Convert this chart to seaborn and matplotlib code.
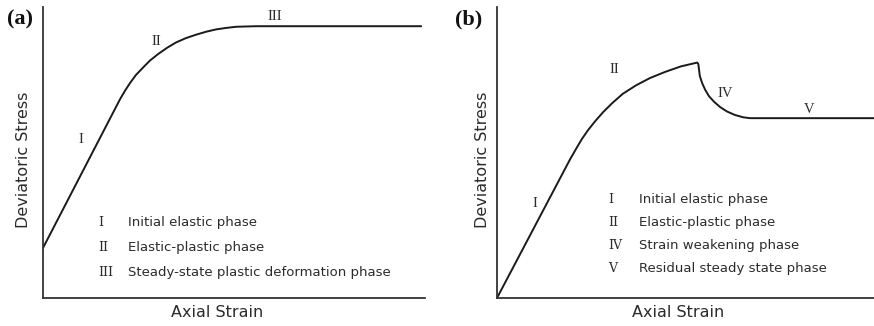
import matplotlib
matplotlib.use("Agg")
import matplotlib.pyplot as plt
import seaborn as sns
import pandas as pd

# Panel (a): stress-strain curve with a steady-state plateau
strain_a = [0.0, 20.2, 21.5, 22.8, 24.3, 26.2, 28.0, 30.1, 32.5, 34.8, 37.4,
            40.1, 42.7, 45.3, 47.9, 50.5, 53.1, 55.8, 99.0]
stress_a = [17.2, 68.4, 71.3, 73.9, 76.6, 79.2, 81.6, 83.8, 86.0, 87.8, 89.3,
            90.5, 91.5, 92.3, 92.8, 93.2, 93.3, 93.4, 93.4]

# Panel (b): stress-strain curve with a peak, weakening and residual plateau
strain_b = [0.0, 19.4, 21.0, 22.5, 24.1, 26.0, 28.1, 30.5, 33.4, 36.9, 40.6,
            44.6, 48.8, 53.1, 53.4, 53.6, 53.8, 54.4, 55.2, 56.2, 57.6, 59.2,
            61.0, 63.1, 65.3, 67.1, 100.0]
stress_b = [0.0, 47.7, 51.3, 54.6, 57.6, 60.7, 63.8, 66.9, 70.2, 73.1, 75.6,
            77.7, 79.6, 80.9, 80.4, 78.4, 76.3, 73.9, 71.6, 69.4, 67.4, 65.6,
            64.1, 62.9, 62.1, 61.8, 61.8]

phases_a = ["I", "II", "III"]
phase_names_a = ["Initial elastic phase", "Elastic-plastic phase",
                 "Steady-state plastic deformation phase"]
phases_b = ["I", "II", "IV", "V"]
phase_names_b = ["Initial elastic phase", "Elastic-plastic phase",
                 "Strain weakening phase", "Residual steady state phase"]

sns.set_style("white")
plt.rcParams["font.family"] = ["DejaVu Sans"]

W, H = 874, 326
fig = plt.figure(figsize=(W / 100, H / 100), dpi=100)

def frac_box(left, right, top, bottom):
    return [left / W, 1 - bottom / H, (right - left) / W, (bottom - top) / H]

ax_a = fig.add_axes(frac_box(43, 425, 7, 298))
ax_b = fig.add_axes(frac_box(497, 874, 7, 298))

ink = "#1a1a1a"
text_ink = "#2b2b2b"
serif = ["Liberation Serif", "DejaVu Serif"]

df_a = pd.DataFrame({"strain": strain_a, "stress": stress_a})
df_b = pd.DataFrame({"strain": strain_b, "stress": stress_b})
line_kw = dict(sort=False, estimator=None, color=ink, linewidth=1.4)
sns.lineplot(data=df_a, x="strain", y="stress", ax=ax_a, **line_kw)
sns.lineplot(data=df_b, x="strain", y="stress", ax=ax_b, **line_kw)
for ax in (ax_a, ax_b):
    for ln in ax.get_lines():
        ln.set_solid_joinstyle("round")
        ln.set_solid_capstyle("round")

for ax in (ax_a, ax_b):
    ax.set_xlim(0, 100)
    ax.set_ylim(0, 100)
    ax.set_xticks([])
    ax.set_yticks([])
    sns.despine(ax=ax)
    for side in ("left", "bottom"):
        ax.spines[side].set_color("#333333")
        ax.spines[side].set_linewidth(1.3)
    ax.set_xlabel("Axial Strain", fontsize=11.5, color=text_ink, va="center")
    ax.set_ylabel("Deviatoric Stress", fontsize=11.5, color=text_ink,
                  va="center")

ax_a.xaxis.set_label_coords(0.455, -0.050)
ax_a.yaxis.set_label_coords(-0.052, 0.474)
ax_b.xaxis.set_label_coords(0.48, -0.050)
ax_b.yaxis.set_label_coords(-0.038, 0.474)

# Phase labels along the curves
curve_labels_a = [("III", 0.607, 0.966), ("II", 0.298, 0.880), ("I", 0.099, 0.543)]
curve_labels_b = [("II", 0.310, 0.784), ("IV", 0.605, 0.704),
                  ("V", 0.828, 0.649), ("I", 0.101, 0.326)]
for ax, labels in ((ax_a, curve_labels_a), (ax_b, curve_labels_b)):
    for s, x, y in labels:
        ax.text(x, y, s, transform=ax.transAxes, ha="center", va="center",
                fontsize=10.5, family=serif, color=text_ink)

# Key of phases
key_font = 9.5
num_family = ["DejaVu Serif"]
key_a_y = [0.258, 0.172, 0.086]
for num, name, y in zip(phases_a, phase_names_a, key_a_y):
    ax_a.text(0.144, y, num, transform=ax_a.transAxes, ha="left", va="center",
              fontsize=9, family=num_family, color=text_ink)
    ax_a.text(0.2225, y, name, transform=ax_a.transAxes, ha="left", va="center",
              fontsize=key_font, color=text_ink)

key_b_y = [0.340, 0.258, 0.179, 0.103]
for num, name, y in zip(phases_b, phase_names_b, key_b_y):
    ax_b.text(0.294, y, num, transform=ax_b.transAxes, ha="left", va="center",
              fontsize=9, family=num_family, color=text_ink)
    ax_b.text(0.377, y, name, transform=ax_b.transAxes, ha="left", va="center",
              fontsize=key_font, color=text_ink)

# Panel tags
fig.text(7 / W, 1 - 19 / H, "(a)", ha="left", va="center", fontsize=16,
         fontweight="bold", family=serif, color="#111111")
fig.text(455 / W, 1 - 19 / H, "(b)", ha="left", va="center", fontsize=16,
         fontweight="bold", family=serif, color="#111111")

fig.savefig("out.png", dpi=100, facecolor="white")
